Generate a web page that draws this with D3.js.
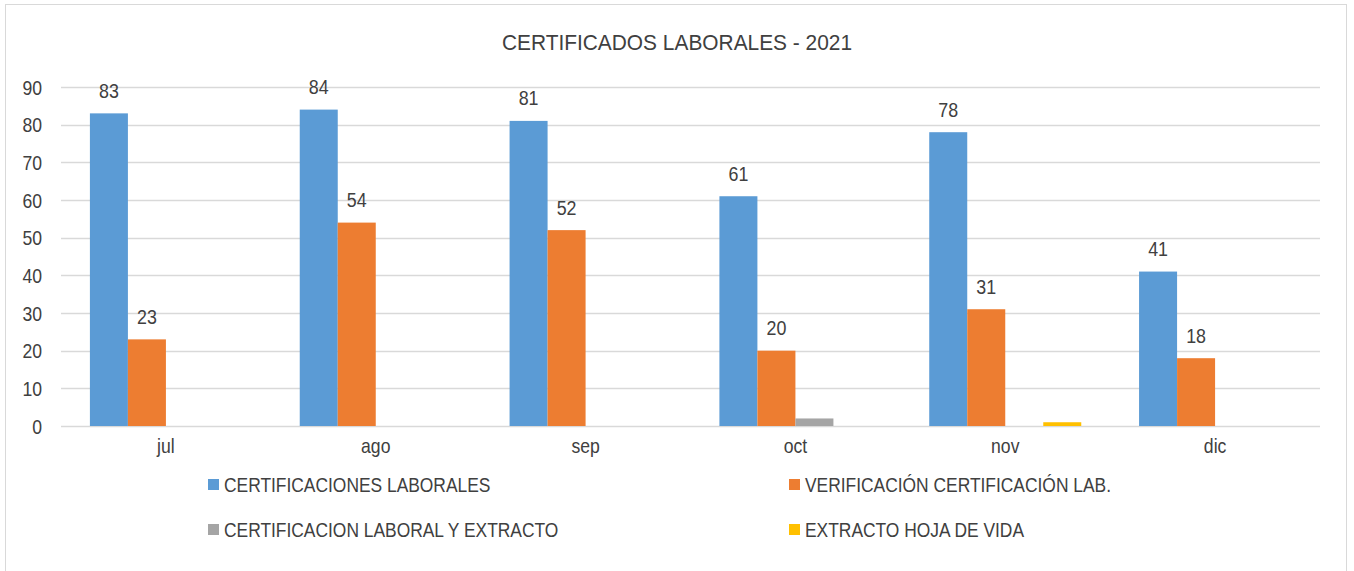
<!DOCTYPE html>
<html>
<head>
<meta charset="utf-8">
<script src="https://cdn.jsdelivr.net/npm/d3@7"></script>
<style>
  body { margin: 0; background: #fff; }
  svg text { font-family: "Liberation Sans", Arial, sans-serif; fill: #404040; }
</style>
</head>
<body>
<div id="chart"></div>
<script>
var months = ['jul', 'ago', 'sep', 'oct', 'nov', 'dic'];
var series = ['CERTIFICACIONES LABORALES', 'VERIFICACIÓN CERTIFICACIÓN LAB.',
              'CERTIFICACION LABORAL Y EXTRACTO', 'EXTRACTO HOJA DE VIDA'];
var certificaciones = [83, 84, 81, 61, 78, 41];
var verificacion = [23, 54, 52, 20, 31, 18];
var certYExtracto = [0, 0, 0, 2, 0, 0];
var extractoHoja = [0, 0, 0, 0, 1, 0];
var yTicks = [0, 10, 20, 30, 40, 50, 60, 70, 80, 90];
var title = 'CERTIFICADOS LABORALES - 2021';

var values = [certificaciones, verificacion, certYExtracto, extractoHoja];
var showLabel = [true, true, false, false];

var width = 1354, height = 571,
    plot = {left: 61, right: 1320, top: 87, bottom: 426},
    svg = d3.select('#chart')
        .append('svg')
        .attr('width', width)
        .attr('height', height);

// the original font is a narrow one, squeeze the text sideways
function condense(sel, sx) {
    sel.each(function () {
        var t = d3.select(this),
            x = +t.attr('x') || 0,
            yy = +t.attr('y') || 0;
        t.attr('x', 0).attr('y', 0)
            .attr('transform', 'translate(' + x + ',' + yy + ') scale(' + sx + ',1)');
    });
}

var color = d3.scaleOrdinal()
    .domain(series)
    .range(['#5b9bd5', '#ed7d31', '#a5a5a5', '#ffc000']);

// frame
svg.append('rect')
    .attr('x', 5.5).attr('y', 4.5)
    .attr('width', 1341).attr('height', 580)
    .attr('fill', '#fff')
    .attr('stroke', '#d9d9d9');

svg.append('text')
    .attr('x', width / 2)
    .attr('y', 50)
    .attr('text-anchor', 'middle')
    .style('font-size', '22px')
    .text(title)
    .call(condense, 0.95);

var x0 = d3.scaleBand()
    .domain(months)
    .range([plot.left, plot.right])
    .paddingInner(0.2755)
    .paddingOuter(0.2755 / 2);

var x1 = d3.scaleBand()
    .domain(series)
    .range([0, x0.bandwidth()]);

var y = d3.scaleLinear()
    .domain([0, 90])
    .range([plot.bottom, plot.top]);

// gridlines
svg.append('g')
    .selectAll('line')
    .data(yTicks)
    .enter().append('line')
    .attr('x1', plot.left).attr('x2', plot.right)
    .attr('y1', function (d) { return Math.round(y(d)) + 0.5; })
    .attr('y2', function (d) { return Math.round(y(d)) + 0.5; })
    .attr('stroke', '#d9d9d9')
    .attr('stroke-width', 1.5);

var yAxis = svg.append('g')
    .attr('transform', 'translate(' + (plot.left - 19) + ',0)')
    .call(d3.axisLeft(y).tickValues(yTicks).tickSize(0).tickPadding(0));
yAxis.select('.domain').remove();
yAxis.selectAll('text')
    .style('font-size', '20px')
    .attr('dy', '0.35em')
    .call(condense, 0.88);

var xAxis = svg.append('g')
    .attr('transform', 'translate(0,' + plot.bottom + ')')
    .call(d3.axisBottom(x0).tickSize(0).tickPadding(20));
xAxis.select('.domain').remove();
xAxis.selectAll('text')
    .style('font-size', '20px')
    .attr('dy', '0.35em')
    .call(condense, 0.88);

var groups = svg.append('g')
    .selectAll('g')
    .data(months)
    .enter().append('g')
    .attr('transform', function (d) { return 'translate(' + x0(d) + ',0)'; });

groups.selectAll('rect')
    .data(function (m, i) {
        return series.map(function (s, k) { return {s: s, k: k, v: values[k][i]}; });
    })
    .enter().append('rect')
    .filter(function (d) { return d.v > 0; })
    .attr('x', function (d) { return x1(d.s); })
    .attr('y', function (d) { return y(d.v); })
    .attr('width', x1.bandwidth())
    .attr('height', function (d) { return y(0) - y(d.v); })
    .attr('fill', function (d) { return color(d.s); });

groups.selectAll('text.lbl')
    .data(function (m, i) {
        return series.map(function (s, k) { return {s: s, k: k, v: values[k][i]}; })
            .filter(function (d) { return showLabel[d.k]; });
    })
    .enter().append('text')
    .attr('class', 'lbl')
    .attr('x', function (d) { return x1(d.s) + x1.bandwidth() / 2; })
    .attr('y', function (d) { return y(d.v) - 15.5; })
    .attr('text-anchor', 'middle')
    .style('font-size', '21px')
    .text(function (d) { return d.v; })
    .call(condense, 0.85);

// legend, two columns
var legendPos = [[208, 485], [789, 485], [208, 530], [789, 530]];
var legend = svg.append('g')
    .selectAll('g')
    .data(series)
    .enter().append('g')
    .attr('transform', function (d, i) {
        return 'translate(' + legendPos[i][0] + ',' + legendPos[i][1] + ')';
    });

legend.append('rect')
    .attr('x', 0).attr('y', -6)
    .attr('width', 11).attr('height', 11)
    .attr('fill', function (d) { return color(d); });

legend.append('text')
    .attr('x', 16)
    .attr('dy', '0.35em')
    .style('font-size', '20px')
    .text(function (d) { return d; })
    .call(condense, 0.87);
</script>
</body>
</html>
